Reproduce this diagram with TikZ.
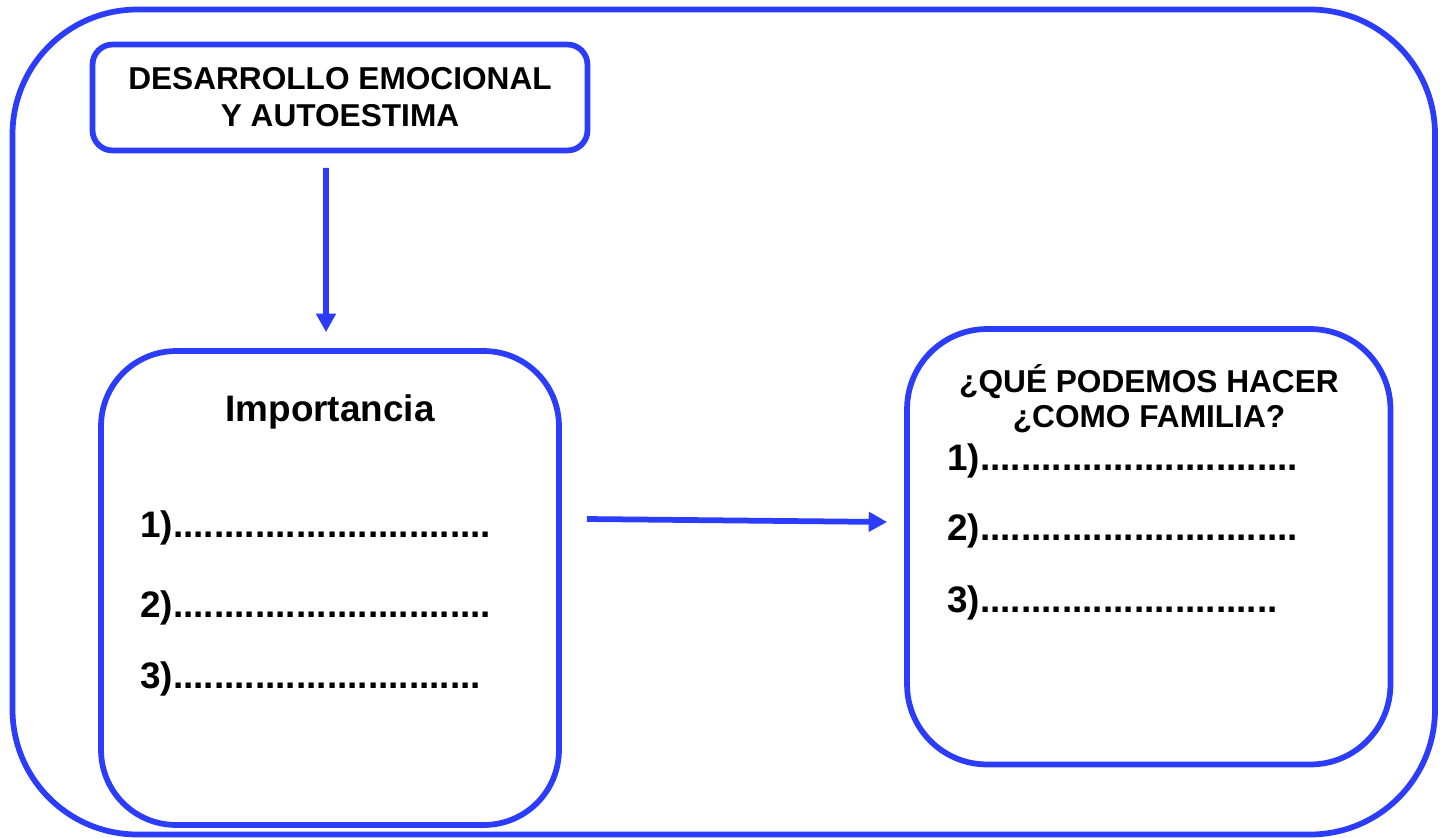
\documentclass[tikz,border=0pt]{standalone}
\usepackage{fontspec}
\setmainfont{Liberation Sans}
\usetikzlibrary{arrows.meta}
\definecolor{azul}{RGB}{43,61,250}
\tikzset{
    marco/.style={draw=azul,line width=0.115cm,rounded corners=#1},
    caja/.style={marco=#1,rectangle,inner sep=0pt},
    flecha/.style={draw=azul,line width=0.115cm,-{Triangle[length=0.37cm,width=0.38cm]}},
    titulo/.style={font=\bfseries\fontsize{18}{21}\selectfont,align=center},
    grande/.style={font=\bfseries\fontsize{21}{25}\selectfont,inner sep=0pt},
    linea/.style={grande,anchor=base west},
}

\begin{document}
\begin{tikzpicture}[x=0.02cm,y=-0.02cm]
\useasboundingbox (0,0) rectangle (1440,838);
\draw[marco=2.5cm] (12.5,9.5) rectangle (1435,834.5);
\node[caja=0.4cm,minimum width=9.9cm,minimum height=2.12cm,titulo] (desarrollo) at (340,97.5) {DESARROLLO EMOCIONAL\\Y AUTOESTIMA};
\node[caja=1.5cm,minimum width=9.16cm,minimum height=9.48cm] (importancia) at (330,588) {};
\node[caja=1.6cm,minimum width=9.67cm,minimum height=8.71cm] (familia) at (1148.75,546.75) {};
\node[grande,anchor=base] (imptitulo) at (330,421) {Importancia};
\node[titulo,anchor=base,inner sep=0pt] (pregunta1) at (1149,392) {¿QUÉ PODEMOS HACER};
\node[titulo,anchor=base,inner sep=0pt] (pregunta2) at (1149,427) {¿COMO FAMILIA?};
% listas
\node[linea] (imp1) at (140,537) {1)...............................};
\node[linea] (imp2) at (140,617) {2)...............................};
\node[linea] (imp3) at (140,688) {3)..............................};
\node[linea] (fam1) at (947,470) {1)...............................};
\node[linea] (fam2) at (947,540) {2)...............................};
\node[linea] (fam3) at (947,612) {3).............................};
% flechas
\draw[flecha] ([xshift=-0.28cm,yshift=-0.29cm]desarrollo.south) -- ([xshift=-0.08cm,yshift=0.32cm]importancia.north);
\draw[flecha] ([xshift=0.5cm,yshift=1.38cm]importancia.east) -- ([xshift=-0.34cm,yshift=0.495cm]familia.west);
\end{tikzpicture}
\end{document}
